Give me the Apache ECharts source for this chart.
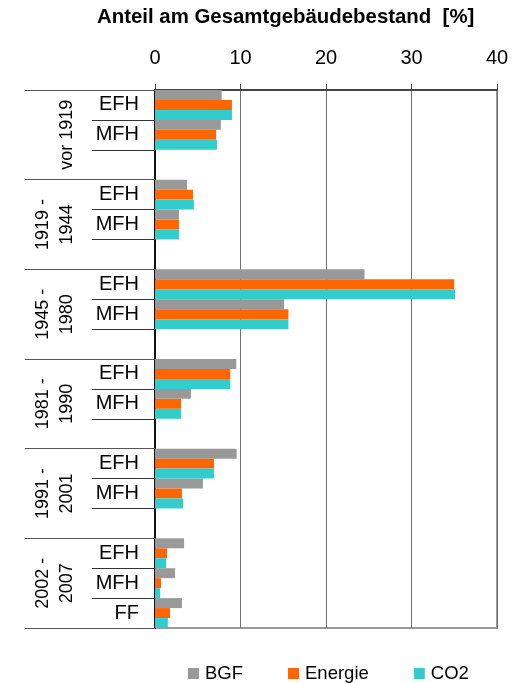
<!DOCTYPE html>
<html>
<head>
<meta charset="utf-8">
<script src="https://cdn.jsdelivr.net/npm/echarts@6/dist/echarts.min.js"></script>
<style>html,body{margin:0;padding:0;background:#fff;}#c{width:530px;height:683px;}</style>
</head>
<body>
<div id="c"></div>
<script>
const groups = ['vor 1919', '1919 -\n1944', '1945 -\n1980', '1981 -\n1990', '1991 -\n2001', '2002 -\n2007'];
const subLabels = ['EFH','MFH','', 'EFH','MFH','', 'EFH','MFH','', 'EFH','MFH','', 'EFH','MFH','', 'EFH','MFH','FF'];
const xTicks = [0, 10, 20, 30, 40];
const bgf     = [7.8, 7.7, null, 3.75, 2.8, null, 24.5, 15.1, null, 9.5, 4.2, null, 9.55, 5.6, null, 3.4, 2.35, 3.15];
const energie = [9.0, 7.15, null, 4.45, 2.8, null, 35.0, 15.6, null, 8.8, 3.05, null, 6.9, 3.15, null, 1.4, 0.7, 1.75];
const co2     = [9.0, 7.25, null, 4.55, 2.8, null, 35.1, 15.6, null, 8.8, 3.05, null, 6.9, 3.3, null, 1.3, 0.6, 1.5];
const seriesNames = ['BGF', 'Energie', 'CO2'];
const seriesData = [bgf, energie, co2];
const colors = ['#999999', '#FF6600', '#33CCCC'];

const FONT = '"Liberation Sans", Arial, sans-serif';
const chart = echarts.init(document.getElementById('c'), null, {renderer: 'canvas'});
const cats = subLabels.map((s, i) => 'c' + i);

chart.setOption({
  animation: false,
  textStyle: {fontFamily: FONT},
  title: {
    text: 'Anteil am Gesamtgebäudebestand  [%]',
    left: 97, top: 7, padding: 0,
    textStyle: {fontFamily: FONT, fontSize: 20.4, fontWeight: 'bold', color: '#000'}
  },
  legend: {
    data: seriesNames,
    left: 188, top: 664, padding: 0,
    icon: 'rect', itemWidth: 11, itemHeight: 11, itemGap: 45,
    textStyle: {fontFamily: FONT, fontSize: 18.5, color: '#000', padding: [0, 0, 0, 1]}
  },
  grid: {
    left: 155, right: 33, top: 90, bottom: 55,
    show: true, borderColor: '#999', borderWidth: 2,
    containLabel: false, outerBoundsMode: 'none'
  },
  xAxis: {
    type: 'value', position: 'top', min: xTicks[0], max: xTicks[xTicks.length - 1], interval: 10,
    axisLine: {show: true, lineStyle: {color: '#444', width: 2}},
    axisTick: {show: true, length: 6, lineStyle: {color: '#444', width: 1}},
    axisLabel: {fontFamily: FONT, fontSize: 20, color: '#000', margin: 22},
    splitLine: {show: true, lineStyle: {color: '#707070', width: 1}}
  },
  yAxis: [
    {
      type: 'category', data: cats, inverse: true, position: 'left',
      axisLine: {show: true, onZero: false, lineStyle: {color: '#111', width: 2}},
      axisTick: {show: true, interval: 0, length: 63, lineStyle: {color: '#333', width: 1}},
      axisLabel: {
        interval: 0, fontFamily: FONT, fontSize: 20, color: '#000', margin: 16,
        formatter: (v, i) => subLabels[i]
      },
      splitLine: {show: false}
    },
    {
      type: 'category', data: groups, inverse: true, position: 'left', offset: 0,
      axisLine: {show: false},
      axisTick: {show: true, interval: 0, length: 130, lineStyle: {color: '#555', width: 1}},
      axisLabel: {
        interval: 0, fontFamily: FONT, fontSize: 18, color: '#000', margin: 76, rotate: 90, lineHeight: 24
      },
      splitLine: {show: false}
    }
  ],
  series: seriesNames.map((n, k) => ({
    name: n, type: 'bar', yAxisIndex: 0,
    data: seriesData[k],
    barGap: '0%', barCategoryGap: '0%',
    itemStyle: {color: colors[k]}
  }))
});
</script>
</body>
</html>
